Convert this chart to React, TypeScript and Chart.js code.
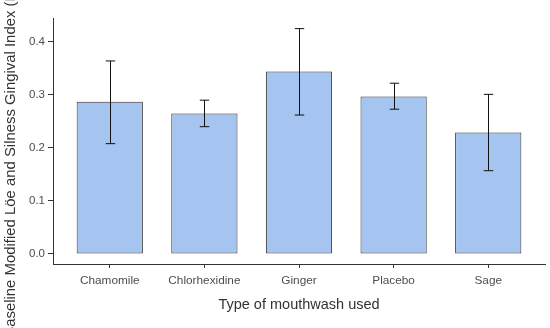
import React, { useEffect, useRef } from "react";
import { Chart, registerables } from "chart.js";

Chart.register(...registerables);

const categories = ["Chamomile", "Chlorhexidine", "Ginger", "Placebo", "Sage"];
const means = [0.287, 0.265, 0.344, 0.297, 0.229];
const errLow = [0.208, 0.240, 0.262, 0.273, 0.157];
const errHigh = [0.364, 0.290, 0.425, 0.322, 0.301];
const yTicks = [0, 0.1, 0.2, 0.3, 0.4];
const xTitle = "Type of mouthwash used";
const yTitle = "Baseline Modified Löe and Silness Gingival Index (MLS-GI)";

const FONT = "'Liberation Sans', Arial, sans-serif";

const errorBarPlugin = {
  id: "errorBars",
  afterDatasetsDraw(chart: any) {
    const { ctx, scales } = chart;
    const xs = scales.x;
    const ys = scales.y;
    const cap = (xs.getPixelForValue(1.05) - xs.getPixelForValue(0.95));
    ctx.save();
    ctx.strokeStyle = "#111";
    ctx.lineWidth = 1;
    categories.forEach((_, i) => {
      const x = Math.round(xs.getPixelForValue(i + 1)) + 0.5;
      const yt = ys.getPixelForValue(errHigh[i]);
      const yb = ys.getPixelForValue(errLow[i]);
      ctx.beginPath();
      ctx.moveTo(x, yt);
      ctx.lineTo(x, yb);
      ctx.moveTo(x - cap / 2, yt);
      ctx.lineTo(x + cap / 2, yt);
      ctx.moveTo(x - cap / 2, yb);
      ctx.lineTo(x + cap / 2, yb);
      ctx.stroke();
    });
    ctx.restore();
  },
};

export default function App() {
  const ref = useRef<HTMLCanvasElement>(null);
  useEffect(() => {
    if (!ref.current) return;
    const chart = new Chart(ref.current, {
      type: "bar",
      data: {
        datasets: [
          {
            data: means.map((v, i) => ({ x: i + 1, y: v })),
            backgroundColor: "#a5c4f0",
            borderColor: "#333333",
            borderWidth: 1,
            borderSkipped: false,
            barPercentage: 0.7,
            categoryPercentage: 1,
          },
        ],
      },
      options: {
        animation: false,
        responsive: false,
        maintainAspectRatio: false,
        layout: { padding: { top: 18, right: 5, left: 0, bottom: 0 } },
        plugins: { legend: { display: false }, tooltip: { enabled: false } },
        scales: {
          x: {
            type: "linear",
            min: 0.4,
            max: 5.6,
            offset: false,
            afterBuildTicks: (s: any) => {
              s.ticks = categories.map((_, i) => ({ value: i + 1 }));
            },
            afterFit: (s: any) => {
              s.height = 64;
            },
            ticks: {
              callback: (v: any) => categories[Math.round(Number(v)) - 1] ?? "",
              color: "#4d4d4d",
              font: { family: FONT, size: 11.8 },
              padding: 6,
              maxRotation: 0,
              autoSkip: false,
            },
            grid: {
              offset: false,
              drawOnChartArea: false,
              drawTicks: true,
              tickLength: 4,
              color: "#333333",
            },
            border: { display: true, color: "#333333", width: 1 },
            title: {
              display: true,
              text: xTitle,
              color: "#333333",
              font: { family: FONT, size: 14.5 },
              padding: { top: 0, bottom: 14 },
            },
          },
          y: {
            type: "linear",
            min: -0.019,
            max: 0.445,
            afterBuildTicks: (s: any) => {
              s.ticks = yTicks.map((v) => ({ value: v }));
            },
            afterFit: (s: any) => {
              s.width = 53;
            },
            ticks: {
              callback: (v: any) => Number(v).toFixed(1),
              color: "#4d4d4d",
              font: { family: FONT, size: 11.5 },
              padding: 3,
            },
            grid: {
              drawOnChartArea: false,
              drawTicks: true,
              tickLength: 5,
              color: "#333333",
            },
            border: { display: true, color: "#333333", width: 1 },
            title: {
              display: true,
              text: yTitle,
              color: "#333333",
              font: { family: FONT, size: 14.9 },
              padding: { top: 1.5, bottom: 0 },
            },
          },
        },
      },
      plugins: [errorBarPlugin],
    } as any);
    return () => chart.destroy();
  }, []);
  return (
    <div style={{ position: "fixed", left: 0, top: 0, width: 550, height: 328, background: "#fff" }}>
      <canvas ref={ref} width={550} height={328} />
    </div>
  );
}
